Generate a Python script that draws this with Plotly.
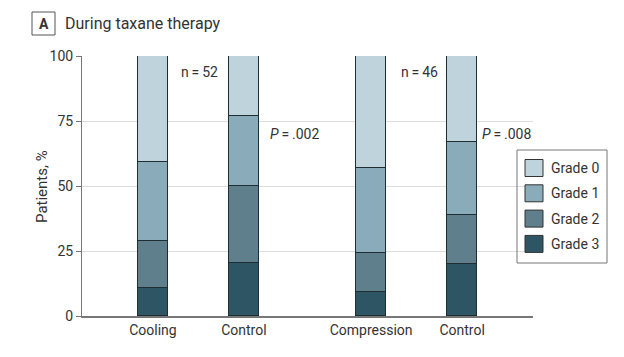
import plotly.graph_objects as go

groups = ["Cooling", "Control", "Compression", "Control"]
positions = [0, 1, 2.4, 3.4]
grade3 = [10.8, 20.5, 9.2, 20.0]
grade2 = [17.9, 29.6, 14.9, 18.8]
grade1 = [30.7, 27.0, 33.0, 28.2]
grade0 = [40.6, 22.9, 42.9, 33.0]
y_ticks = [0, 25, 50, 75, 100]

series = [("Grade 3", grade3, "#2e5563"), ("Grade 2", grade2, "#5e7f8b"),
          ("Grade 1", grade1, "#8aabb9"), ("Grade 0", grade0, "#bfd3dc")]

OFF = 8  # page body margin
W, H = 624, 357
# target plot area in screen pixels: x 82..533, y 56..316
L, T = 82 - OFF, 56 - OFF
R = W - (533 - OFF)
B = H - (316 - OFF)
PW, PH = W - L - R, H - T - B


def px(x):
    return (x - OFF - L) / PW


def py(y):
    return (H - B - (y - OFF)) / PH


FONT = "Roboto, sans-serif"
fig = go.Figure()
for name, vals, col in series:
    fig.add_trace(go.Bar(x=positions, y=vals, name=name, width=0.33, showlegend=False,
                         marker=dict(color=col, line=dict(color="#1e2e33", width=1))))

fig.update_layout(
    barmode="stack", width=W, height=H,
    margin=dict(l=L, r=R, t=T, b=B, autoexpand=False),
    plot_bgcolor="white", paper_bgcolor="white",
    font=dict(family=FONT, size=14, color="#333333"),
    xaxis=dict(range=[-0.78, 4.18], tickvals=positions, ticktext=groups, showgrid=False,
               showline=True, linecolor="#777777", linewidth=1.5, ticks="", zeroline=False),
    yaxis=dict(range=[0, 100], tickvals=y_ticks, showgrid=True, gridcolor="#dddddd",
               showline=True, linecolor="#777777", linewidth=1, ticks="outside",
               ticklen=5, tickcolor="#777777", zeroline=False),
    bargap=0,
)

# y axis title
fig.add_annotation(x=px(42), y=py(187), xref="paper", yref="paper", text="Patients, %",
                   textangle=-90, showarrow=False, xanchor="center", yanchor="middle",
                   font=dict(size=15))

sp = "\u2009"
fig.add_annotation(x=px(179), y=py(72), xref="paper", yref="paper", text=f"n{sp}={sp}52",
                   showarrow=False, xanchor="left", yanchor="middle")
fig.add_annotation(x=px(268), y=py(134), xref="paper", yref="paper", text=f"<i>P</i>{sp}={sp}.002",
                   showarrow=False, xanchor="left", yanchor="middle")
fig.add_annotation(x=px(399), y=py(72), xref="paper", yref="paper", text=f"n{sp}={sp}46",
                   showarrow=False, xanchor="left", yanchor="middle")
fig.add_annotation(x=px(480), y=py(134), xref="paper", yref="paper", text=f"<i>P</i>{sp}={sp}.008",
                   showarrow=False, xanchor="left", yanchor="middle")

# panel header
fig.add_shape(type="rect", xref="paper", yref="paper", x0=px(32), x1=px(55), y0=py(35), y1=py(12),
              line=dict(color="#555555", width=1))
fig.add_annotation(x=px(43.5), y=py(23.5), xref="paper", yref="paper", text="<b>A</b>",
                   showarrow=False, xanchor="center", yanchor="middle", font=dict(size=14))
fig.add_annotation(x=px(63), y=py(23), xref="paper", yref="paper", text="During taxane therapy",
                   showarrow=False, xanchor="left", yanchor="middle", font=dict(size=16))

# legend box
fig.add_shape(type="rect", xref="paper", yref="paper", x0=px(517), x1=px(607), y0=py(263), y1=py(150),
              line=dict(color="#777777", width=1))
for i, (name, vals, col) in enumerate(reversed(series)):
    yc = 168 + i * 25.3
    fig.add_shape(type="rect", xref="paper", yref="paper", x0=px(525), x1=px(543),
                  y0=py(yc + 8.5), y1=py(yc - 8.5), fillcolor=col, line=dict(color="#333333", width=1))
    fig.add_annotation(x=px(549), y=py(yc), xref="paper", yref="paper", text=name,
                       showarrow=False, xanchor="left", yanchor="middle")

fig.write_html("out.html")
